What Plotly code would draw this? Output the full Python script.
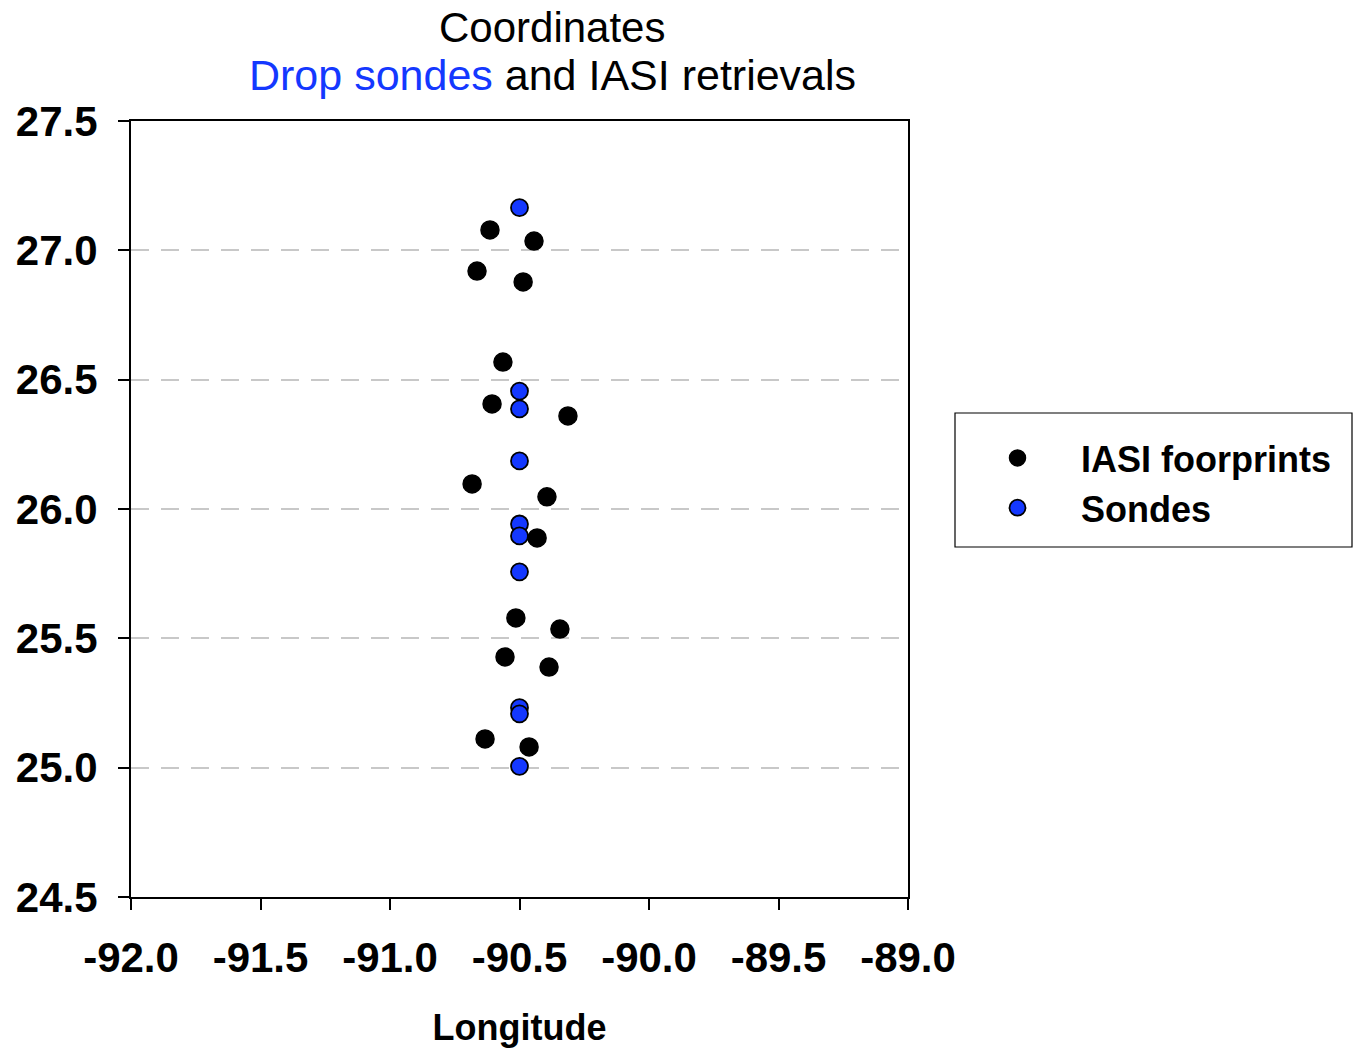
import plotly.graph_objects as go

# IASI footprints (black)
iasi_lon = [-90.614, -90.444, -90.664, -90.486, -90.564, -90.606, -90.313, -90.683,
            -90.394, -90.432, -90.514, -90.344, -90.556, -90.386, -90.633, -90.463]
iasi_lat = [27.079, 27.036, 26.920, 26.878, 26.568, 26.406, 26.360, 26.097,
            26.047, 25.888, 25.579, 25.536, 25.428, 25.389, 25.111, 25.080]

# Drop sondes (blue)
sonde_lon = [-90.5, -90.5, -90.5, -90.5, -90.5, -90.5, -90.5, -90.5, -90.5, -90.5]
sonde_lat = [27.165, 26.456, 26.387, 26.186, 25.942, 25.896, 25.757, 25.232, 25.208, 25.005]

x_ticks = [-92.0, -91.5, -91.0, -90.5, -90.0, -89.5, -89.0]
y_ticks = [24.5, 25.0, 25.5, 26.0, 26.5, 27.0, 27.5]

BLUE = "#1438ff"
FONT = "Liberation Sans, Arial, sans-serif"

W, H = 1355, 1049
ML, MR, MT, MB = 131, 447, 121, 152
PW, PH = W - ML - MR, H - MT - MB


def px_x(p):
    return (p - ML) / PW


def px_y(p):
    return (H - MB - p) / PH


fig = go.Figure()
fig.add_trace(go.Scatter(
    x=iasi_lon, y=iasi_lat, mode="markers", name="IASI foorprints",
    marker=dict(size=18, color="black", line=dict(color="black", width=1.5)),
))
fig.add_trace(go.Scatter(
    x=sonde_lon, y=sonde_lat, mode="markers", name="Sondes",
    marker=dict(size=17, color=BLUE, line=dict(color="black", width=1.8)),
))

fig.update_layout(
    width=W, height=H,
    margin=dict(l=ML, r=MR, t=MT, b=MB, autoexpand=False),
    paper_bgcolor="white", plot_bgcolor="white",
    font=dict(family=FONT, color="black"),
    showlegend=True,
    legend=dict(
        x=px_x(954), y=px_y(428), xanchor="left", yanchor="top",
        borderwidth=0, bgcolor="rgba(0,0,0,0)",
        font=dict(size=36, family=FONT, weight="bold"),
        itemsizing="trace", itemwidth=117, tracegroupgap=0,
    ),
    shapes=[
        dict(type="rect", xref="paper", yref="paper",
             x0=px_x(955), x1=px_x(1352), y0=px_y(547), y1=px_y(413),
             line=dict(color="black", width=1.2), fillcolor="rgba(0,0,0,0)", layer="below"),
    ],
    annotations=[
        dict(text="Coordinates", x=px_x(552), y=px_y(28), xref="paper", yref="paper",
             showarrow=False, font=dict(size=42, family=FONT, color="black"),
             xanchor="center", yanchor="middle"),
        dict(text=f"<span style='color:{BLUE}'>Drop sondes</span> and IASI retrievals",
             x=px_x(552), y=px_y(75), xref="paper", yref="paper",
             showarrow=False, font=dict(size=43, family=FONT, color="black"),
             xanchor="center", yanchor="middle"),
    ],
)

fig.update_xaxes(
    range=[-92.0, -89.0], tickvals=x_ticks, ticktext=[f"{v:.1f}" for v in x_ticks],
    showgrid=False, zeroline=False, automargin=False,
    showline=True, linecolor="black", linewidth=2, mirror=True,
    ticks="outside", ticklen=11, tickwidth=2, tickcolor="black",
    tickfont=dict(size=42, family=FONT, weight="bold"),
    ticklabelstandoff=12,
    title=dict(text="Longitude", font=dict(size=36, family=FONT, weight="bold"), standoff=34),
)
fig.update_yaxes(
    range=[24.5, 27.5], tickvals=y_ticks, ticktext=[f"{v:.1f}" for v in y_ticks],
    showgrid=True, gridcolor="#c8c8c8", gridwidth=2, griddash="18px,12px",
    zeroline=False, automargin=False,
    showline=True, linecolor="black", linewidth=2, mirror=True,
    ticks="outside", ticklen=11, tickwidth=2, tickcolor="black",
    tickfont=dict(size=42, family=FONT, weight="bold"),
    ticklabelstandoff=12,
)

fig.write_html("out.html")
